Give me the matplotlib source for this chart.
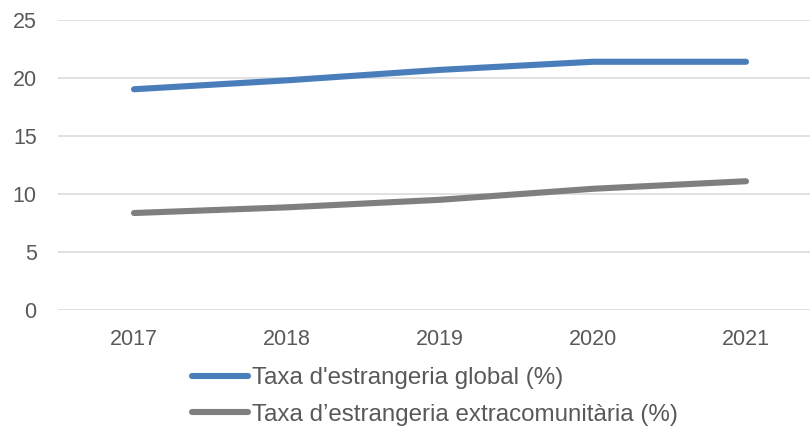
import matplotlib
matplotlib.use("Agg")
import matplotlib.pyplot as plt

years = ["2017", "2018", "2019", "2020", "2021"]
global_rate = [19.03, 19.8, 20.7, 21.4, 21.4]
extra_rate = [8.36, 8.85, 9.5, 10.45, 11.1]
labels = ["Taxa d'estrangeria global (%)", "Taxa d\u2019estrangeria extracomunitària (%)"]
yticks = [0, 5, 10, 15, 20, 25]

plt.rcParams['font.family'] = ['Liberation Sans', 'DejaVu Sans']
W, H = 810, 426
fig = plt.figure(figsize=(W / 100, H / 100), dpi=100)
ax = fig.add_axes([57.5 / W, (H - 310) / H, 765 / W, 290 / H])

x = list(range(len(years)))
l1, = ax.plot(x, global_rate, color='#4a7ebb', lw=4.4, solid_capstyle='round', label=labels[0])
l2, = ax.plot(x, extra_rate, color='#7f7f7f', lw=4.4, solid_capstyle='round', label=labels[1])

ax.set_xlim(-0.5, 4.5)
ax.set_ylim(0, 25)
ax.set_yticks(yticks)
ax.set_xticks(x)
ax.set_xticklabels(years)
ax.grid(axis='y', color='#d9d9d9', lw=1.1)
ax.set_axisbelow(True)
for s in ax.spines.values():
    s.set_visible(False)
ax.tick_params(axis='both', length=0, labelsize=15.5, labelcolor='#595959')
ax.tick_params(axis='y', pad=15)
ax.tick_params(axis='x', pad=14)

leg = fig.legend(handles=[l1, l2], loc='upper left',
                 bbox_to_anchor=(192 / W, (H - 367) / H),
                 frameon=False, fontsize=17.4, labelcolor='#595959',
                 handlelength=2.3, handletextpad=0.2, labelspacing=0.6,
                 borderaxespad=0, borderpad=0)

fig.savefig("out.png", dpi=100)
